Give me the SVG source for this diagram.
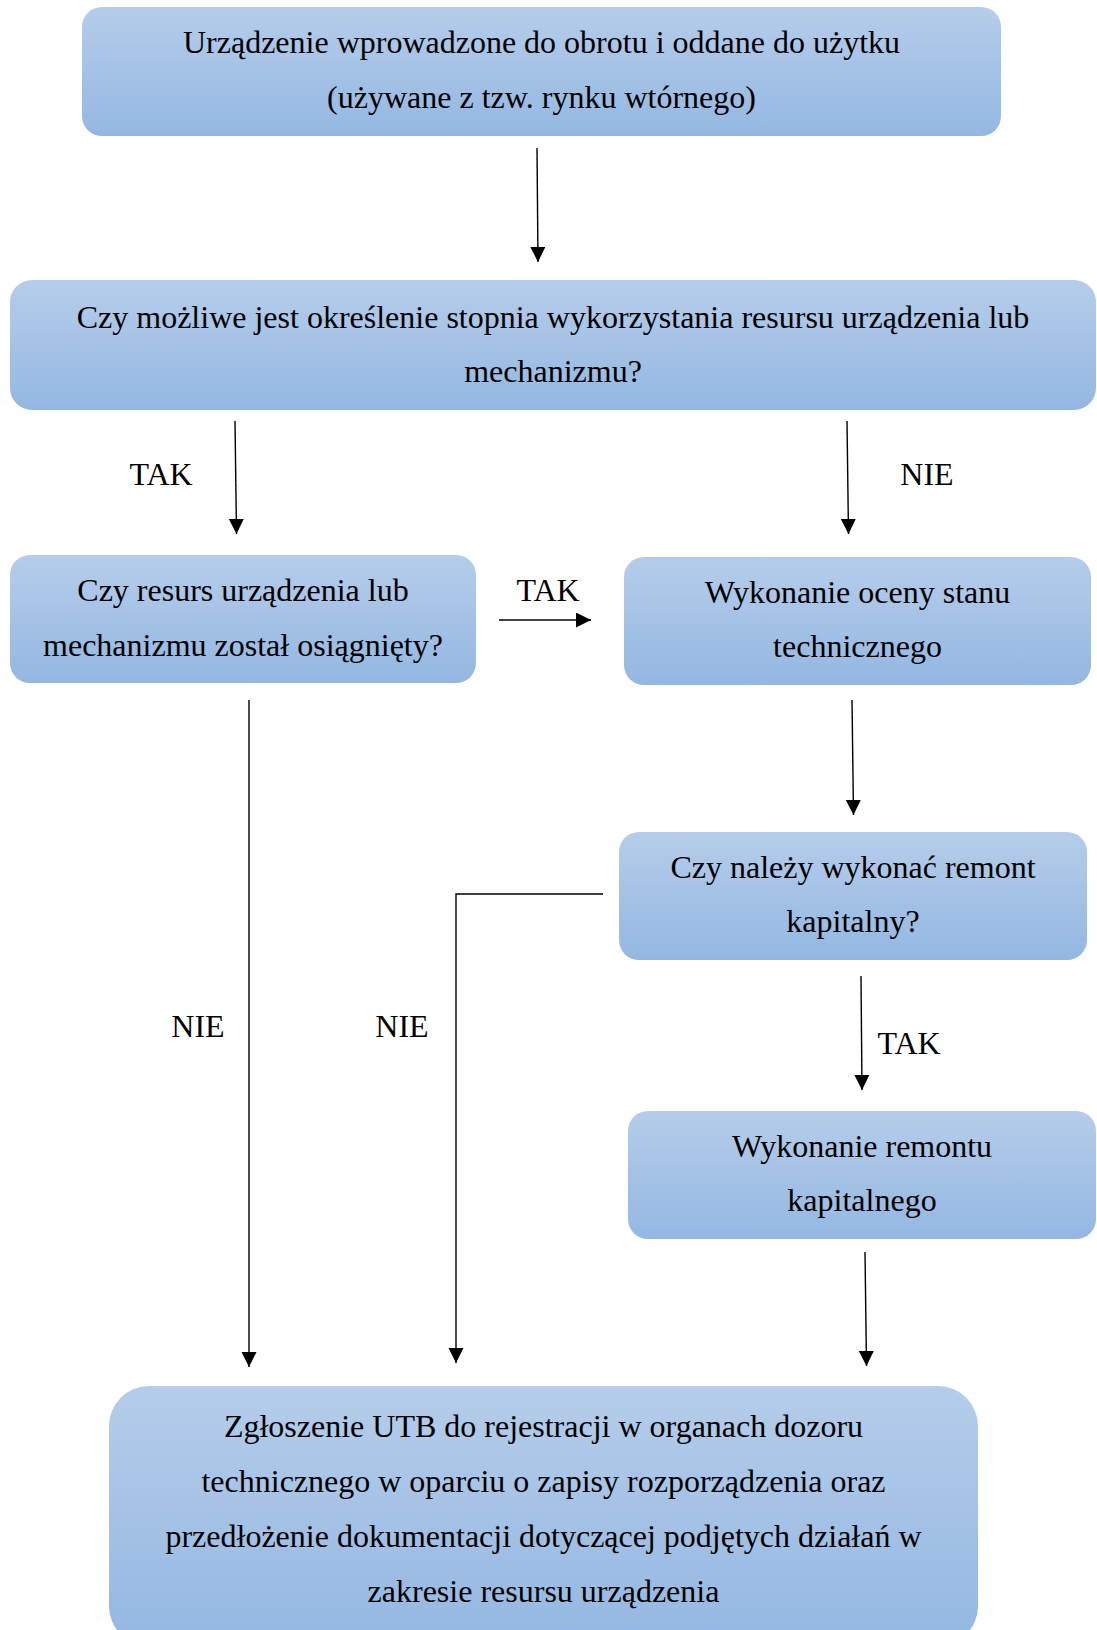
<svg xmlns="http://www.w3.org/2000/svg" width="1097" height="1630" viewBox="0 0 1097 1630">
<style>
  .box { fill: url(#grad); stroke: none; }
  .t { font-family: "Liberation Serif", "Times New Roman", serif; font-size: 32px; fill: #000; text-anchor: middle; }
  .c { stroke: #000; stroke-width: 1.4; fill: none; }
  .a { marker-end: url(#arr); }
</style>
<defs>
  <linearGradient id="grad" x1="0" y1="0" x2="0" y2="1">
    <stop offset="0" stop-color="#b5cdea"/>
    <stop offset="1" stop-color="#94b7e2"/>
  </linearGradient>
  <marker id="arr" markerUnits="userSpaceOnUse" markerWidth="16" markerHeight="16" refX="15" refY="7.5" orient="auto">
    <path d="M0,0 L15,7.5 L0,15 z" fill="#000"/>
  </marker>
</defs>
<rect width="1097" height="1630" fill="#fff"/>

<g id="connectors">
  <line class="c a" x1="537" y1="148" x2="538" y2="262"/>
  <line class="c a" x1="235" y1="421" x2="236.5" y2="534"/>
  <line class="c a" x1="847" y1="421" x2="848.5" y2="534"/>
  <line class="c a" x1="499" y1="620" x2="591" y2="620"/>
  <line class="c a" x1="852" y1="700" x2="853.5" y2="815"/>
  <line class="c a" x1="861" y1="976" x2="862" y2="1090"/>
  <line class="c a" x1="865" y1="1252" x2="866.5" y2="1366"/>
  <line class="c a" x1="249" y1="700" x2="249" y2="1367"/>
  <polyline class="c a" points="603,894 456,894 456,1363"/>
  <text class="t" x="161" y="485">TAK</text>
  <text class="t" x="927" y="485">NIE</text>
  <text class="t" x="548" y="601">TAK</text>
  <text class="t" x="909" y="1054">TAK</text>
  <text class="t" x="198" y="1037">NIE</text>
  <text class="t" x="402" y="1037">NIE</text>
</g>

<g id="n1">
  <rect class="box" x="82" y="7" width="919" height="129" rx="20"/>
  <text class="t" x="541.5" y="53">Urządzenie wprowadzone do obrotu i oddane do użytku</text>
  <text class="t" x="541.5" y="108">(używane z tzw. rynku wtórnego)</text>
</g>
<g id="n2">
  <rect class="box" x="10" y="280" width="1086" height="130" rx="22"/>
  <text class="t" x="553" y="328">Czy możliwe jest określenie stopnia wykorzystania resursu urządzenia lub</text>
  <text class="t" x="553" y="382">mechanizmu?</text>
</g>
<g id="n3">
  <rect class="box" x="10" y="555" width="466" height="128" rx="20"/>
  <text class="t" x="243" y="601">Czy resurs urządzenia lub</text>
  <text class="t" x="243" y="656">mechanizmu został osiągnięty?</text>
</g>
<g id="n4">
  <rect class="box" x="624" y="557" width="467" height="128" rx="20"/>
  <text class="t" x="857.5" y="603">Wykonanie oceny stanu</text>
  <text class="t" x="857.5" y="657">technicznego</text>
</g>
<g id="n5">
  <rect class="box" x="619" y="832" width="468" height="128" rx="20"/>
  <text class="t" x="853" y="878">Czy należy wykonać remont</text>
  <text class="t" x="853" y="932">kapitalny?</text>
</g>
<g id="n6">
  <rect class="box" x="628" y="1111" width="468" height="128" rx="20"/>
  <text class="t" x="862" y="1157">Wykonanie remontu</text>
  <text class="t" x="862" y="1211">kapitalnego</text>
</g>
<g id="n7">
  <rect class="box" x="109" y="1386" width="869" height="260" rx="40"/>
  <text class="t" x="543.5" y="1437">Zgłoszenie UTB do rejestracji w organach dozoru</text>
  <text class="t" x="543.5" y="1492">technicznego w oparciu o zapisy rozporządzenia oraz</text>
  <text class="t" x="543.5" y="1547">przedłożenie dokumentacji dotyczącej podjętych działań w</text>
  <text class="t" x="543.5" y="1602">zakresie resursu urządzenia</text>
</g>
</svg>
